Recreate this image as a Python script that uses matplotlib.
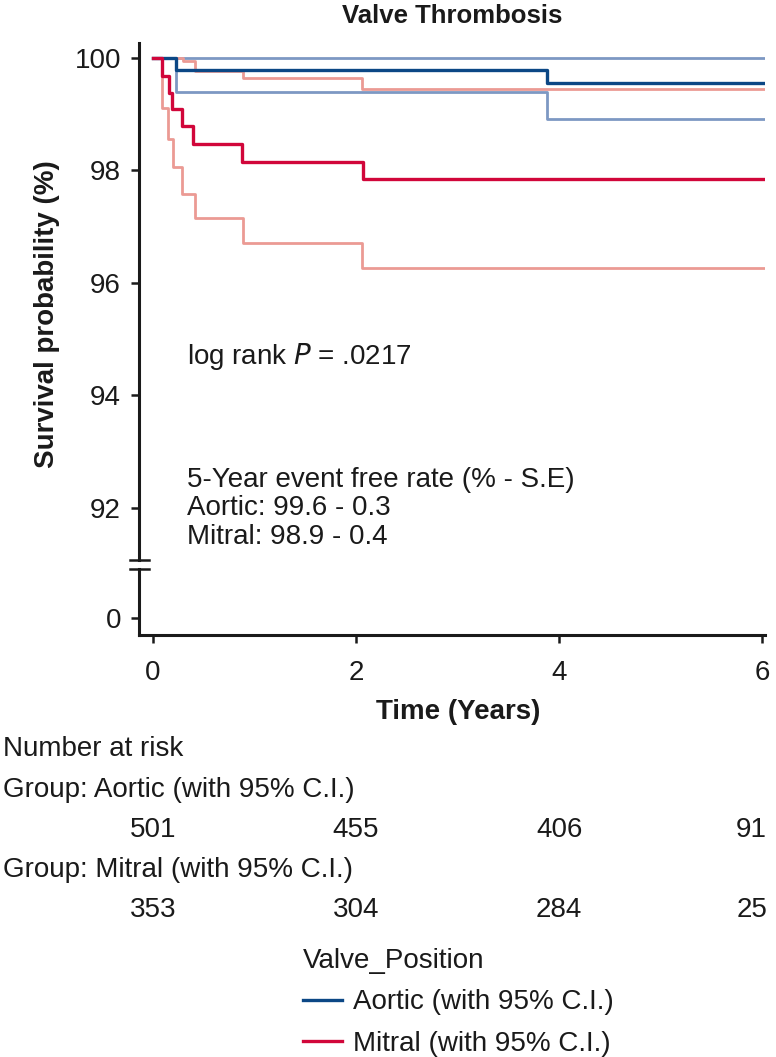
import matplotlib
matplotlib.use("Agg")
import matplotlib.pyplot as plt
from matplotlib.lines import Line2D
from matplotlib.transforms import blended_transform_factory

plt.rcParams['font.family'] = ['Liberation Sans', 'DejaVu Sans']

# ---- data ----
end_time = 6.02
aortic_t = [0, 0.226, 3.88, end_time]
aortic_s = [100, 99.78, 99.56, 99.56]
aortic_lo_t = [0, 0.226, 3.88, end_time]
aortic_lo = [100, 99.40, 98.91, 98.91]
aortic_hi_t = [0, end_time]
aortic_hi = [100, 100]

mitral_t = [0, 0.095, 0.164, 0.19, 0.285, 0.40, 0.88, 2.07, end_time]
mitral_s = [100, 99.68, 99.37, 99.09, 98.79, 98.47, 98.14, 97.84, 97.84]
mitral_lo_t = [0, 0.095, 0.147, 0.197, 0.285, 0.416, 0.89, 2.06, end_time]
mitral_lo = [100, 99.10, 98.55, 98.06, 97.58, 97.15, 96.71, 96.27, 96.27]
mitral_hi_t = [0, 0.30, 0.42, 0.89, 2.06, end_time]
mitral_hi = [100, 99.95, 99.77, 99.64, 99.45, 99.45]

risk_times = [0, 2, 4, 6]
risk_aortic = [501, 455, 406, 91]
risk_mitral = [353, 304, 284, 25]

y_ticks_top = [92, 94, 96, 98, 100]
y_ticks_bottom = [0]
x_ticks = [0, 2, 4, 6]

c_aortic = '#0b4785'
c_aortic_ci = '#7d98c3'
c_mitral = '#d1063a'
c_mitral_ci = '#eb9a94'
c_text = '#1a1a1a'

W, H = 776, 1057
fig = plt.figure(figsize=(W / 100, H / 100), dpi=100)

def fx(px):
    return px / W

def fy(py):
    return 1 - py / H

left_px, right_px = 139, 765
top_px, brk_top, brk_bot, bot_px = 43, 560, 568.6, 635

ax = fig.add_axes([fx(left_px), fy(brk_top), fx(right_px - left_px), (brk_top - top_px) / H])
axb = fig.add_axes([fx(left_px), fy(bot_px), fx(right_px - left_px), (bot_px - brk_bot) / H])

xlim = (-0.135, 6.025)
ax.set_xlim(*xlim)
axb.set_xlim(*xlim)
ax.set_ylim(91.066, 100.265)
axb.set_ylim(-0.30, 0.879)

lw_main, lw_ci = 2.4, 2.0
ax.step(aortic_hi_t, aortic_hi, where='post', color=c_aortic_ci, lw=lw_ci)
ax.step(aortic_lo_t, aortic_lo, where='post', color=c_aortic_ci, lw=lw_ci)
ax.step(mitral_hi_t, mitral_hi, where='post', color=c_mitral_ci, lw=lw_ci)
ax.step(mitral_lo_t, mitral_lo, where='post', color=c_mitral_ci, lw=lw_ci)
la, = ax.step(aortic_t, aortic_s, where='post', color=c_aortic, lw=lw_main)
lm, = ax.step(mitral_t, mitral_s, where='post', color=c_mitral, lw=lw_main)

fs = 20
for a in (ax, axb):
    for s in ('top', 'right'):
        a.spines[s].set_visible(False)
    a.spines['left'].set_linewidth(2.2)
    a.spines['bottom'].set_linewidth(2.2)
    a.spines['left'].set_color(c_text)
    a.spines['bottom'].set_color(c_text)
    a.tick_params(axis='both', length=6, width=1.8, color=c_text,
                  labelsize=fs, labelcolor=c_text)
    a.tick_params(axis='y', pad=7)
    a.tick_params(axis='x', pad=12)

ax.spines['bottom'].set_visible(False)
ax.set_xticks([])
ax.set_yticks(y_ticks_top)
ax.set_yticklabels([str(v) for v in y_ticks_top])
axb.set_yticks(y_ticks_bottom)
axb.set_yticklabels([str(v) for v in y_ticks_bottom])
axb.set_xticks(x_ticks)
axb.set_xticklabels([str(v) for v in x_ticks])

# break marks
for yy in (brk_top, brk_bot):
    fig.add_artist(Line2D([fx(130), fx(149)], [fy(yy), fy(yy)], color=c_text, lw=1.8))

# titles / labels
fig.text(fx(452), fy(16), 'Valve Thrombosis', ha='center', va='center',
         fontsize=18.5, fontweight='bold', color=c_text)
fig.text(fx(47), fy(314), 'Survival probability (%)', ha='center', va='center',
         rotation=90, fontsize=fs, fontweight='bold', color=c_text)
fig.text(fx(458), fy(712), 'Time (Years)', ha='center', va='center',
         fontsize=fs, fontweight='bold', color=c_text)

# annotations
fig.text(fx(187), fy(356), 'log rank $\\it{P}$ = .0217', ha='left', va='center',
         fontsize=fs, color=c_text)
fig.text(fx(187), fy(480), '5-Year event free rate (% - S.E)', ha='left', va='center',
         fontsize=fs, color=c_text)
fig.text(fx(187), fy(508), 'Aortic: 99.6 - 0.3', ha='left', va='center',
         fontsize=fs, color=c_text)
fig.text(fx(187), fy(537), 'Mitral: 98.9 - 0.4', ha='left', va='center',
         fontsize=fs, color=c_text)

# number at risk table
fig.text(fx(3), fy(749), 'Number at risk', ha='left', va='center', fontsize=fs, color=c_text)
fig.text(fx(3), fy(790), 'Group: Aortic (with 95% C.I.)', ha='left', va='center', fontsize=fs, color=c_text)
fig.text(fx(3), fy(870), 'Group: Mitral (with 95% C.I.)', ha='left', va='center', fontsize=fs, color=c_text)
tr = blended_transform_factory(axb.transData, fig.transFigure)
last = len(risk_times) - 1
for row_y, counts in ((830, risk_aortic), (910, risk_mitral)):
    for i, (t, n) in enumerate(zip(risk_times, counts)):
        if i == last:
            fig.text(fx(767), fy(row_y), str(n), ha='right', va='center', fontsize=fs, color=c_text)
        else:
            fig.text(t, fy(row_y), str(n), transform=tr, ha='center', va='center', fontsize=fs, color=c_text)

# legend
leg = fig.legend([la, lm], ['Aortic (with 95% C.I.)', 'Mitral (with 95% C.I.)'],
                 title='Valve_Position', loc='upper left',
                 bbox_to_anchor=(fx(303), fy(948)), frameon=False,
                 fontsize=fs, title_fontsize=fs, handlelength=1.4,
                 handletextpad=0.4, labelspacing=0.55, borderpad=0,
                 borderaxespad=0, alignment='left')
for t in leg.get_texts():
    t.set_color(c_text)
leg.get_title().set_color(c_text)

fig.savefig('out.png', dpi=100)
